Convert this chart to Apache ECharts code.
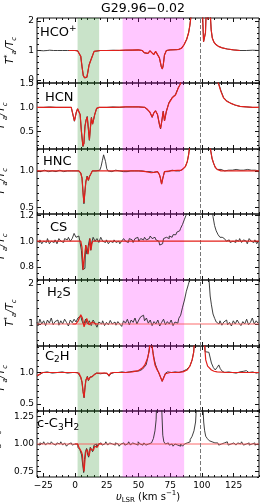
<!DOCTYPE html>
<html><head><meta charset="utf-8">
<script src="https://cdn.jsdelivr.net/npm/echarts@6/dist/echarts.min.js"></script>
<style>html,body{margin:0;padding:0;background:#fff}#c{width:262px;height:504px}</style>
</head><body><div id="c"></div>
<script>
// ---------------- data ----------------
const title = 'G29.96\u22120.02';
const X_MIN = -30, X_MAX = 145;
const xMajor = [-25, 0, 25, 50, 75, 100, 125];
const greenBand = [2, 19];
const magentaBand = [37.5, 86];
const dashV = 98.3;

const yRanges = [[-0.1, 2.1], [0.13, 1.51], [0.41, 1.30], [0.70, 1.21], [0.45, 2.1], [0.39, 1.42], [0.70, 1.30]];
const yMajor = [[0, 1, 2], [0.5, 1.0, 1.5], [0.5, 1.0], [0.8, 1.0, 1.2], [1, 2], [0.5, 1.0], [0.75, 1.00, 1.25]];
const yDec = [0, 1, 1, 1, 0, 1, 2];
const yMinorStep = [0.2, 0.1, 0.1, 0.05, 0.2, 0.1, 0.05];

// HCO+
const hcoObs = [[-30,1.0],[-28,1.0],[-26.5,1.02],[-25,0.99],[-23.5,1.01],[-22,1.0],[-20,1.01],[-17,1.0],[-14,1.0],[-10,1.0],[-6,1.0],[-2,1.0],[0,1.0],[2,0.99],[3.5,0.94],[4.5,0.8],[5.5,0.45],[6.5,0.15],[7.5,0.07],[8.5,0.12],[9.3,0.09],[10,0.25],[11,0.5],[12,0.63],[13,0.65],[14,0.86],[15,0.97],[16,1.0],[20,1.0],[25,1.0],[30,1.01],[35,1.0],[40,1.01],[45,1.01],[50,1.02],[53,1.0],[54.5,0.92],[56,0.98],[57.5,0.9],[59,0.99],[60.5,0.96],[62,0.86],[63.5,0.97],[65,0.95],[66.5,0.75],[68,0.45],[68.8,0.37],[69.5,0.5],[70.5,0.85],[72,1.0],[75,1.02],[80,1.03],[82,1.04],[84,1.08],[86,1.2],[88,1.38],[89.5,1.6],[90.5,1.85],[91.5,2.2],[93,3.0],[99.5,3.0],[100.5,2.2],[101.3,1.3],[102,1.25],[102.8,1.6],[103.5,2.5],[104.2,2.3],[104.8,2.05],[105.6,2.4],[106.5,2.3],[107.3,1.7],[108.2,1.42],[109.5,1.28],[111,1.2],[113,1.14],[116,1.09],[120,1.05],[125,1.02],[130,1.0],[135,1.0],[140,1.01],[145,1.0]];
const hcoFit = [[-5,1.0],[0,1.0],[2,0.99],[3.5,0.95],[4.5,0.8],[5.5,0.45],[6.5,0.15],[7.5,0.08],[8.5,0.12],[9.3,0.1],[10,0.25],[11,0.5],[12,0.62],[13,0.66],[14,0.85],[15,0.97],[16,1.0],[20,1.0],[30,1.0],[40,1.01],[50,1.02],[53,1.0],[54.5,0.93],[56,0.98],[57.5,0.9],[59,0.99],[60.5,0.96],[62,0.86],[63.5,0.97],[65,0.95],[66.5,0.75],[68,0.45],[68.8,0.38],[69.5,0.5],[70.5,0.85],[72,1.0],[75,1.02],[80,1.03],[82,1.04],[84,1.08],[86,1.2],[88,1.38],[89.5,1.6],[90.5,1.85],[91.5,2.2],[93,3.0],[99.5,3.0],[100.5,2.2],[101.3,1.3],[102,1.25],[102.8,1.6],[103.5,2.5],[104.2,2.3],[104.8,2.05],[105.6,2.4],[106.5,2.3],[107.3,1.7],[108.2,1.42],[109.5,1.28],[111,1.2],[113,1.14],[116,1.09],[120,1.05],[125,1.02],[130,1.0]];

// HCN
const hcnObs = [[-30,1.0],[-25,1.0],[-20,1.01],[-15,1.0],[-10,1.0],[-5,1.0],[-3,1.0],[-1.5,0.97],[-0.5,0.71],[0.3,0.67],[1,0.9],[2,0.97],[3,0.96],[4,0.85],[5,0.5],[6.2,0.18],[7,0.25],[7.8,0.6],[8.6,0.73],[9.6,0.81],[10.5,0.55],[11.3,0.31],[12,0.55],[12.9,0.79],[13.8,0.65],[14.5,0.62],[15.5,0.85],[17,0.98],[19,1.0],[25,1.0],[30,1.01],[35,1.0],[40,1.01],[45,1.01],[50,1.01],[55,1.0],[57,0.95],[59,0.9],[60.8,0.79],[62,0.88],[63.4,0.93],[65,0.85],[66.5,0.64],[67.4,0.55],[68.3,0.7],[69.5,0.92],[70.5,0.72],[71.2,0.75],[72,0.92],[74,1.1],[76.6,1.21],[79.2,1.27],[81.3,1.41],[83,1.49],[84.5,1.7],[111,1.7],[113,1.52],[115,1.35],[117,1.21],[119.5,1.14],[122.4,1.09],[126,1.05],[130,1.02],[135,1.01],[140,1.0],[145,1.0]];
const hcnFit = [[-30,1.0],[-20,1.0],[-10,1.0],[-3,1.0],[-1.5,0.97],[-0.5,0.72],[0.3,0.68],[1,0.9],[2,0.97],[3,0.96],[4,0.85],[5,0.5],[6.2,0.19],[7,0.25],[7.8,0.6],[8.6,0.72],[9.6,0.8],[10.5,0.55],[11.3,0.32],[12,0.55],[12.9,0.78],[13.8,0.65],[14.5,0.62],[15.5,0.85],[17,0.98],[19,1.0],[30,1.0],[40,1.01],[50,1.01],[55,1.0],[57,0.96],[59,0.9],[60.8,0.8],[62,0.88],[63.4,0.93],[65,0.85],[66.5,0.65],[67.4,0.56],[68.3,0.7],[69.5,0.92],[70.5,0.72],[71.2,0.75],[72,0.92],[74,1.09],[76.6,1.2],[79.2,1.26],[81.3,1.4],[83,1.49],[84.5,1.7],[111,1.7],[113,1.5],[115,1.33],[117,1.2],[119.5,1.13],[122.4,1.09],[126,1.05],[130,1.02],[135,1.01],[140,1.0],[145,1.0]];

// HNC
const hncObs = [[-30,1.0],[-28.5,1.01],[-27,0.99],[-25.5,1.0],[-24,1.01],[-22.5,1.0],[-21,0.99],[-19.5,1.01],[-18,1.0],[-16.5,1.01],[-15,0.99],[-13.5,1.0],[-12,1.01],[-10.5,1.0],[-9,0.99],[-7.5,1.01],[-6,1.0],[-4.5,1.01],[-3,1.0],[-1.5,0.99],[0,1.0],[1.5,1.01],[3,1.0],[4.5,0.97],[5.5,0.9],[6.3,0.7],[7.0,0.55],[7.7,0.7],[8.5,0.85],[9.5,0.93],[10.5,0.87],[11.3,0.92],[12.5,0.96],[13.6,1.0],[15,1.01],[16.5,1.0],[18,1.0],[19.5,1.01],[20.5,1.06],[21.5,1.14],[22.5,1.22],[23.2,1.24],[24,1.13],[25,1.03],[26,1.0],[27.5,1.01],[29,0.99],[30.5,1.0],[32,1.01],[33.5,0.99],[35,1.0],[36.5,1.01],[38,0.99],[39.5,1.0],[41,0.99],[42.5,1.01],[44,1.0],[45.5,0.99],[47,1.0],[48.5,0.99],[50,1.0],[51.5,0.99],[53,1.0],[54.5,0.98],[56,0.99],[57.5,0.98],[59,0.99],[60.5,0.97],[62,0.98],[63.5,0.99],[65,0.99],[66.5,0.95],[67.3,0.9],[68.2,0.82],[69.2,0.9],[70.5,0.99],[72,1.0],[73.5,0.99],[75,1.0],[76.5,1.01],[78,1.0],[79.5,1.0],[81,1.01],[82.5,1.0],[84,1.01],[85.5,1.03],[87,1.06],[88.5,1.13],[89.5,1.22],[90.5,1.35],[92,1.6],[105,1.6],[106.7,1.3],[108,1.17],[109.3,1.1],[110.5,1.05],[112,1.02],[113.5,1.01],[115,1.02],[116.5,1.01],[118,1.0],[119.5,1.02],[121,1.01],[122.5,1.0],[124,1.01],[125.5,1.0],[127,1.02],[128.5,1.0],[130,1.01],[131.5,1.0],[133,1.01],[134.5,1.0],[136,1.02],[137.5,1.0],[139,1.01],[140.5,1.0],[142,1.01],[143.5,1.0],[145,1.0]];
const hncFit = [[-30,1.0],[3,1.0],[4.5,0.97],[5.5,0.9],[6.3,0.7],[7.0,0.56],[7.7,0.7],[8.5,0.85],[9.5,0.92],[10.5,0.87],[11.3,0.92],[12.5,0.96],[13.6,1.0],[50,1.0],[56,0.99],[60,0.975],[62,0.98],[65,0.99],[66.5,0.95],[67.3,0.9],[68.2,0.82],[69.2,0.9],[70.5,0.99],[75,1.0],[84,1.01],[85.5,1.03],[87,1.06],[88.5,1.13],[89.5,1.22],[90.5,1.35],[92,1.6],[105,1.6],[106.7,1.3],[108,1.17],[109.3,1.1],[110.5,1.05],[112,1.02],[115,1.0],[145,1.0]];

// CS
const csObs = [[-30,1.0],[-28.5,0.99],[-27,1.01],[-25.5,0.98],[-24,1.0],[-22.5,0.99],[-21,1.02],[-19.5,0.98],[-18,1.0],[-16.5,0.99],[-15,1.01],[-13.5,0.98],[-12,1.02],[-10.5,1.0],[-9,0.99],[-7.5,1.02],[-6,1.01],[-4.5,1.03],[-3,1.0],[-1.5,1.02],[0,1.06],[1.5,1.03],[3,1.04],[4.5,1.0],[5.5,0.93],[6.6,0.78],[7.8,0.79],[8.8,0.97],[10,0.9],[11,0.97],[12,1.02],[12.7,0.93],[13.5,0.99],[15,1.03],[16.5,1.0],[18,1.02],[19.5,0.99],[21,1.03],[22.5,1.0],[24,0.99],[25.5,1.01],[27,0.98],[28.5,1.0],[30,0.99],[31.5,1.01],[33,0.99],[34.5,1.0],[36,0.98],[37.5,1.0],[39,1.02],[40.5,1.0],[42,0.99],[43.5,1.02],[45,1.01],[46.5,0.99],[48,1.02],[49.5,1.03],[51,1.0],[52.5,1.02],[54,1.01],[55.5,1.03],[57,1.01],[58.5,1.02],[60,1.04],[61.5,1.02],[63,1.03],[64.5,1.01],[66,1.0],[67.5,0.97],[69,0.98],[70.5,1.02],[72,1.03],[73.5,1.02],[75,1.04],[76.5,1.03],[78,1.05],[79.5,1.05],[81,1.07],[82.5,1.08],[84,1.1],[85.5,1.13],[87,1.17],[88,1.2],[89,1.25],[90,1.4],[107,1.4],[108,1.3],[109.5,1.19],[110.5,1.12],[112,1.08],[113.5,1.05],[115,1.03],[117,1.02],[118.5,1.01],[120,1.0],[121.5,1.01],[123,0.99],[124.5,1.0],[126,0.99],[127.5,1.01],[129,1.0],[130.5,1.02],[132,0.99],[133.5,1.01],[135,1.0],[136.5,0.98],[138,1.02],[139.5,1.0],[141,0.99],[142.5,1.01],[144,0.98],[145,1.0]];
const csFit = [[-30,1.0],[4.5,1.0],[5.5,0.95],[6.3,0.78],[7.8,0.78],[8.5,0.97],[9.3,0.97],[10.3,0.9],[11,0.96],[11.8,1.02],[12.5,0.93],[13.3,0.98],[14,1.0],[145,1.0]];

// H2S
const h2sObs = [[-30,1.05],[-28.5,0.95],[-27,1.12],[-25.5,1.0],[-24,1.08],[-22.5,0.96],[-21,1.1],[-19.5,1.02],[-18,1.15],[-16.5,0.98],[-15,1.06],[-13.5,1.1],[-12,0.97],[-10.5,1.08],[-9,1.0],[-7.5,1.12],[-6,1.04],[-4.5,0.95],[-3,1.1],[-1.5,1.03],[0,1.12],[1.5,1.05],[3,1.15],[4.5,1.2],[6,1.1],[7.5,0.98],[9,1.12],[10.5,1.0],[12,1.08],[13.5,0.96],[15,1.1],[16.5,1.02],[18,0.92],[19.5,1.05],[21,1.0],[22.5,1.08],[24,0.96],[25.5,1.04],[27,0.98],[28.5,1.09],[30,1.0],[31.5,1.05],[33,0.97],[34.5,1.06],[36,1.0],[37.5,0.94],[39,1.08],[40.5,1.02],[42,1.12],[43.5,0.98],[45,1.1],[46.5,1.04],[48,1.15],[49.5,1.0],[51,1.1],[52.5,1.18],[54,1.22],[55.5,1.08],[57,1.15],[58.5,1.02],[60,1.1],[61.5,0.96],[63,1.06],[64.5,1.0],[66,1.1],[67.5,0.95],[69,1.04],[70.5,1.12],[72,0.98],[73.5,1.06],[75,1.0],[76.5,1.1],[78,0.96],[79.5,1.05],[81,1.02],[82.5,1.14],[84,1.22],[85.5,1.42],[87,1.6],[88.5,1.82],[90,1.98],[91.5,2.15],[93,2.5],[105,2.5],[106,2.15],[107,1.7],[108,1.48],[109.5,1.25],[110.6,1.14],[112,1.05],[113.5,1.0],[115,1.08],[116.5,0.97],[118,1.05],[119.5,1.1],[121,0.98],[122.5,1.04],[124,0.95],[125.5,1.08],[127,1.0],[128.5,1.1],[130,1.02],[131.5,0.96],[133,1.06],[134.5,1.0],[136,1.12],[137.5,0.98],[139,1.04],[140.5,1.15],[142,1.0],[143.5,1.08],[145,1.02]];
const h2sBase = [[-30,1.0],[145,1.0]];
const h2sFit = [[-2,1.0],[0.6,1.0],[2.5,1.08],[4.5,1.23],[5.8,1.15],[7.1,0.93],[8.3,1.05],[9.2,1.14],[10.2,1.05],[11,0.98],[12.2,1.02],[13.6,1.05],[15,1.02],[16.5,1.0],[18,1.0]];

// C2H
const c2hObs = [[-30,0.94],[-29,0.96],[-27,0.98],[-25,1.0],[-22,1.01],[-18,0.99],[-14,1.0],[-10,1.01],[-6,0.99],[-2,1.0],[2,1.0],[3.5,0.98],[4.5,0.92],[5.5,0.84],[6.3,0.7],[7.1,0.6],[7.8,0.76],[8.5,0.87],[9.7,0.94],[10.5,0.87],[11,0.85],[11.8,0.93],[12.5,0.94],[13.6,0.93],[15,0.97],[17,0.99],[20,0.98],[23,0.99],[25.5,0.98],[26.8,0.94],[28,0.98],[31,1.0],[34,1.0],[37,1.01],[40,1.0],[43,1.01],[46,1.02],[49,1.02],[51,1.03],[53,1.05],[54.5,1.04],[56,1.12],[57.5,1.25],[59,1.45],[59.5,1.6],[61,1.6],[61.6,1.3],[62.5,1.2],[63.5,1.12],[65,1.04],[66,0.99],[67.5,0.92],[68.7,0.86],[70,0.93],[71.3,0.99],[73,1.01],[76,1.0],[79,1.01],[82,1.0],[85,1.02],[88,1.05],[90.5,1.1],[92.3,1.2],[93.5,1.32],[94.5,1.6],[102,1.6],[102.5,1.33],[104,1.34],[105.5,1.32],[106.5,1.3],[107.5,1.15],[109,1.08],[110.5,1.04],[112,1.08],[113.3,1.12],[114.5,1.06],[116,1.02],[118,1.0],[121,1.01],[124,1.0],[127,0.99],[130,1.01],[133,1.02],[135,1.03],[137,1.0],[140,1.01],[143,0.99],[145,1.0]];
const c2hFit = [[-30,0.95],[-28,0.97],[-26,1.0],[-20,1.0],[-10,1.0],[0,1.0],[3,0.99],[4.5,0.93],[5.5,0.85],[6.3,0.7],[7.1,0.6],[7.8,0.75],[8.5,0.88],[9.7,0.93],[10.5,0.88],[11,0.86],[11.8,0.92],[12.5,0.95],[13.6,0.94],[15,0.97],[17,0.99],[20,0.99],[25,0.99],[26.8,0.95],[28,0.99],[30,1.0],[40,1.0],[45,1.01],[50,1.03],[53,1.07],[55,1.12],[57,1.22],[58.5,1.34],[59.5,1.6],[61,1.6],[61.8,1.25],[63,1.12],[64.5,1.05],[66,1.0],[67.5,0.92],[68.7,0.86],[70,0.92],[71.3,0.98],[75,1.0],[80,1.0],[85,1.01],[88.4,1.04],[90.5,1.1],[92.3,1.2],[93.5,1.32],[94.5,1.6],[101.5,1.6],[103,1.2],[104.5,1.1],[105.6,1.07],[107.5,1.04],[109.6,1.02],[112,1.01],[120,1.0],[145,1.0]];

// c-C3H2
const cc3h2Obs = [[-30,1.0],[-28.5,0.99],[-27,1.01],[-25.5,1.0],[-24,1.02],[-22.5,0.99],[-21,1.01],[-19.5,1.0],[-18,1.02],[-16.5,1.0],[-15,0.99],[-13.5,1.01],[-12,1.0],[-10.5,1.02],[-9,0.99],[-7.5,1.01],[-6,0.98],[-4.5,1.0],[-3,1.01],[-1.5,0.99],[0,1.0],[1.5,1.0],[3,0.97],[4.5,0.95],[5.8,0.9],[6.5,0.8],[7.1,0.74],[7.8,0.86],[8.5,0.93],[9.7,0.96],[10.4,0.9],[11,0.88],[11.7,0.94],[12.3,0.97],[13.3,0.95],[14.4,0.93],[15.5,0.99],[16.5,1.0],[17.5,0.97],[19,1.0],[20.5,1.01],[22,0.99],[23.5,1.0],[25,1.02],[26.5,0.99],[28,1.01],[29.5,1.0],[31,0.99],[32.5,1.01],[34,1.0],[35.5,0.98],[37,1.0],[38.5,1.01],[40,0.99],[41.5,1.0],[43,1.02],[44.5,0.99],[46,1.01],[47.5,1.0],[49,0.99],[50.5,1.02],[52,1.0],[53.5,0.99],[55,1.01],[56.5,0.99],[58,1.0],[59.5,1.01],[61,1.02],[62.5,1.05],[63.5,1.12],[64.3,1.22],[65,1.5],[66,1.8],[67,1.9],[68,1.6],[68.8,1.3],[69.5,1.08],[70.5,1.02],[72,1.0],[73.5,1.01],[75,0.99],[76.5,1.0],[78,0.98],[79.5,1.0],[81,0.99],[82.5,0.98],[84,1.0],[85.5,0.98],[87,1.0],[88.5,1.01],[90,1.02],[91.5,1.04],[93,1.07],[94.5,1.12],[95.5,1.2],[96.5,1.4],[97.5,1.8],[100,1.8],[101,1.4],[101.8,1.2],[102.5,1.12],[103.5,1.07],[105,1.05],[106.5,1.03],[108,1.02],[109.5,1.01],[111,1.0],[112.5,1.01],[114,0.99],[115.5,1.0],[117,1.01],[118.5,1.0],[120,1.02],[121.5,0.99],[123,1.0],[124.5,1.01],[126,1.0],[127.5,0.99],[129,1.01],[130.5,1.0],[132,1.02],[133.5,0.99],[135,1.0],[136.5,1.01],[138,0.99],[139.5,1.0],[141,1.01],[142.5,0.99],[144,1.0],[145,1.0]];
const cc3h2Base = [[-30,1.0],[145,1.0]];
const cc3h2Fit = [[0,1.0],[1.9,1.0],[3.5,0.96],[5.0,0.93],[5.8,0.9],[6.5,0.8],[7.1,0.75],[7.8,0.85],[8.5,0.93],[9.7,0.95],[10.4,0.91],[11,0.89],[11.7,0.93],[12.3,0.96],[13.3,0.96],[14.4,0.94],[15.5,0.98],[16.5,0.99],[17.5,0.97],[18.9,1.0],[21,1.0]];

const observed = [hcoObs, hcnObs, hncObs, csObs, h2sObs, c2hObs, cc3h2Obs];
const fitted = [hcoFit, hcnFit, hncFit, csFit, h2sFit, c2hFit, cc3h2Fit];
const baselines = [null, null, null, null, h2sBase, null, cc3h2Base];
const noisy = [false, false, false, true, true, false, true];

// ---------------- layout ----------------
const fam = 'DejaVu Sans';
const panelTop = [18, 83, 149, 214, 280, 346, 411];
const panelH = [65, 66, 65, 66, 66, 65, 66];
const labelPos = [[40, 14.5], [45, 14.5], [43, 13], [50, 14], [47, 12.5], [45, 10.5], [37, 13]];
const richBase = {
  n: {fontSize: 13, fontFamily: fam, color: '#000', lineHeight: 16},
  p: {fontSize: 9, fontFamily: fam, color: '#000', verticalAlign: 'top', lineHeight: 16, padding: [0, 0, 6, 0]},
  b: {fontSize: 9, fontFamily: fam, color: '#000', verticalAlign: 'bottom', lineHeight: 16, padding: [5, 0, 0, 0]}
};
const panelLabels = ['{n|HCO}{p|+}', '{n|HCN}', '{n|HNC}', '{n|CS}', '{n|H}{b|2}{n|S}', '{n|C}{b|2}{n|H}', '{n|c-C}{b|3}{n|H}{b|2}'];

const xMinor = [];
for (let v = -30; v <= 145; v += 5) if (xMajor.indexOf(v) < 0) xMinor.push(v);

function minorVals(i) {
  const [lo, hi] = yRanges[i];
  const st = yMinorStep[i];
  const out = [];
  for (let k = Math.ceil(lo / st - 1e-9); k * st <= hi + 1e-9; k++) {
    const v = +(k * st).toFixed(4);
    if (!yMajor[i].some(m => Math.abs(m - v) < 1e-6)) out.push(v);
  }
  return out;
}
const fmtX = v => (v < 0 ? '\u2212' + (-v) : String(v));

const yName = '{i|T}{p|*}{b|a}{i|/T}{b|c}';
const yRich = {
  i: {fontSize: 10, fontStyle: 'italic', fontFamily: fam, color: '#000', lineHeight: 14},
  p: {fontSize: 7, fontFamily: fam, color: '#000', verticalAlign: 'top', lineHeight: 14},
  b: {fontSize: 7, fontStyle: 'italic', fontFamily: fam, color: '#000', verticalAlign: 'bottom', lineHeight: 14}
};

const grids = [], xAxes = [], yAxes = [], series = [], graphics = [];
for (let i = 0; i < 7; i++) {
  grids.push({left: 37, width: 222, top: panelTop[i], height: panelH[i], show: true, borderColor: '#111', borderWidth: 1,
    backgroundColor: 'transparent', containLabel: false, outerBoundsMode: 'none'});
  const xa = (pos, vals, len, lab) => ({
    gridIndex: i, type: 'value', min: X_MIN, max: X_MAX, position: pos, scale: true,
    axisLine: {show: false, onZero: false}, splitLine: {show: false},
    axisTick: {show: true, inside: true, length: len, customValues: vals, lineStyle: {color: '#111', width: 1}},
    axisLabel: {show: lab, customValues: vals, formatter: fmtX, fontSize: 9, color: '#000', fontFamily: fam, margin: 4}
  });
  xAxes.push(xa('bottom', xMajor, 4, i === 6), xa('bottom', xMinor, 2, false), xa('top', xMajor, 4, false), xa('top', xMinor, 2, false));
  const mv = minorVals(i);
  const ya = (pos, vals, len, lab) => ({
    gridIndex: i, type: 'value', min: yRanges[i][0], max: yRanges[i][1], position: pos, scale: true,
    axisLine: {show: false, onZero: false}, splitLine: {show: false},
    axisTick: {show: true, inside: true, length: len, customValues: vals, lineStyle: {color: '#111', width: 1}},
    axisLabel: {show: lab, customValues: vals, formatter: v => v.toFixed(yDec[i]), fontSize: 9, color: '#000', fontFamily: fam, margin: 3},
    name: lab ? yName : '', nameLocation: 'middle', nameGap: 19, nameRotate: 90,
    nameTextStyle: {rich: yRich}
  });
  yAxes.push(ya('left', yMajor[i], 4, true), ya('left', mv, 2, false), ya('right', yMajor[i], 4, false), ya('right', mv, 2, false));

  series.push({
    type: 'line', xAxisIndex: 4 * i, yAxisIndex: 4 * i, data: observed[i], showSymbol: false, symbol: 'none',
    step: noisy[i] ? 'middle' : false, lineStyle: {color: '#2a2a2a', width: 0.9}, z: 3, clip: true, animation: false,
    markArea: {silent: true, data: [
      [{xAxis: greenBand[0], itemStyle: {color: 'rgba(30,140,30,0.24)'}}, {xAxis: greenBand[1]}],
      [{xAxis: magentaBand[0], itemStyle: {color: 'rgba(255,0,255,0.22)'}}, {xAxis: magentaBand[1]}]
    ]},
    markLine: {silent: true, symbol: 'none', label: {show: false}, animation: false,
      lineStyle: {type: [4, 2], color: '#777', width: 1}, data: [{xAxis: dashV}]}
  });
  if (baselines[i]) {
    series.push({type: 'line', xAxisIndex: 4 * i, yAxisIndex: 4 * i, data: baselines[i], showSymbol: false, symbol: 'none',
      lineStyle: {color: 'rgba(250,90,90,0.6)', width: 1.6}, z: 4, clip: true, animation: false});
  }
  series.push({type: 'line', xAxisIndex: 4 * i, yAxisIndex: 4 * i, data: fitted[i], showSymbol: false, symbol: 'none',
    lineStyle: {color: '#e3201b', width: 1.2}, z: 5, clip: true, animation: false});

  graphics.push({type: 'text', x: labelPos[i][0], y: panelTop[i] + labelPos[i][1], z: 100,
    style: {text: panelLabels[i], rich: richBase, align: 'left', verticalAlign: 'middle'}});
}

graphics.push({type: 'text', x: 143, y: 9, style: {text: title, fontSize: 12.5, fontFamily: fam, fill: '#000', align: 'center', verticalAlign: 'middle'}});
graphics.push({type: 'text', x: 148, y: 497, style: {
  text: '{i|\u03c5}{b|LSR}{n| (km s}{p|\u22121}{n|)}', align: 'center', verticalAlign: 'middle',
  rich: {
    i: {fontSize: 10, fontStyle: 'italic', fontFamily: fam, color: '#000', lineHeight: 14},
    n: {fontSize: 10, fontFamily: fam, color: '#000', lineHeight: 14},
    b: {fontSize: 7, fontFamily: fam, color: '#000', verticalAlign: 'bottom', lineHeight: 14},
    p: {fontSize: 7, fontFamily: fam, color: '#000', verticalAlign: 'top', lineHeight: 14}
  }}});

const chart = echarts.init(document.getElementById('c'), null, {renderer: 'canvas'});
chart.setOption({
  animation: false,
  backgroundColor: '#fff',
  grid: grids, xAxis: xAxes, yAxis: yAxes, series: series, graphic: graphics
});
</script></body></html>
